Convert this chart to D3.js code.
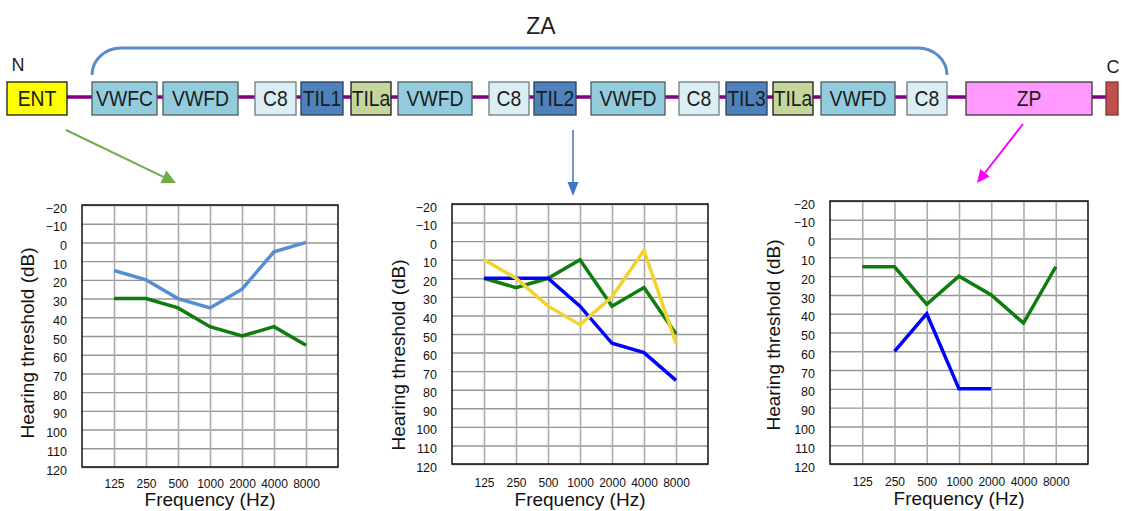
<!DOCTYPE html>
<html>
<head>
<meta charset="utf-8">
<script src="https://cdn.jsdelivr.net/npm/d3@7"></script>
<style>
  html, body { margin: 0; padding: 0; background: #fff; }
  svg { display: block; }
</style>
</head>
<body>
<svg id="fig" width="1122" height="511"></svg>
<script>
// ---- Protein domain architecture (sequence units along the backbone) ----
const domainNames  = ["ENT", "VWFC", "VWFD", "C8", "TIL1", "TILa", "VWFD", "C8", "TIL2", "VWFD", "C8", "TIL3", "TILa", "VWFD", "C8", "ZP", ""];
const domainTypes  = ["ent", "vwf", "vwf", "c8", "til", "tila", "vwf", "c8", "til", "vwf", "c8", "til", "tila", "vwf", "c8", "zp", "cterm"];
const domainStarts = [0, 85, 156, 248, 294, 344, 391, 482, 527, 584, 672, 719, 766, 814, 900, 959, 1099];
const domainEnds   = [60, 150, 231, 289, 336, 384, 465, 522, 569, 658, 712, 760, 806, 888, 940, 1085, 1111];
const zaSpan = [85, 940];

// ---- Audiograms ----
const freqLabels = ["125", "250", "500", "1000", "2000", "4000", "8000"];
const dbTicks = [-20, -10, 0, 10, 20, 30, 40, 50, 60, 70, 80, 90, 100, 110, 120];

// ENT variant
const entUpper = [15, 20, 30, 35, 25, 5, 0];
const entLower = [30, 30, 35, 45, 50, 45, 55];
// TIL2 variants
const til2Green  = [20, 25, 20, 10, 35, 25, 50];
const til2Blue   = [20, 20, 20, 35, 55, 60, 75];
const til2Yellow = [10, 20, 35, 45, 30, 5, 55];
// ZP variants
const zpGreen = [15, 15, 35, 20, 30, 45, 15];
const zpBlue  = [null, 60, 40, 80, 80, null, null];

const svg = d3.select("#fig");
const FONT = "'Liberation Sans', Arial, sans-serif";

// ---------- Domain diagram ----------
const seqX = d3.scaleLinear().domain([0, 1111]).range([7, 1118]);
const backboneY = 97;
const boxTop = 82, boxH = 33;

const domainStyle = {
  ent:   { fill: "#FFFF00", stroke: "#1a1a1a" },
  vwf:   { fill: "#93CDDD", stroke: "#4d5b60" },
  c8:    { fill: "#DAEEF3", stroke: "#6f7b80" },
  til:   { fill: "#4F81BD", stroke: "#2c3e55" },
  tila:  { fill: "#C3D69B", stroke: "#1a1a1a" },
  zp:    { fill: "#FF99FF", stroke: "#3a3a3a" },
  cterm: { fill: "#C0504D", stroke: "#8a3030" }
};

const nDom = domainNames.length;
svg.append("line")
  .attr("x1", seqX(domainEnds[0])).attr("x2", seqX(domainStarts[nDom - 1]))
  .attr("y1", backboneY).attr("y2", backboneY)
  .attr("stroke", "#800080").attr("stroke-width", 3.5);

const doms = svg.append("g").selectAll("g")
  .data(domainNames.map((n, i) => ({ name: n, type: domainTypes[i], s: domainStarts[i], e: domainEnds[i] })))
  .join("g");

doms.append("rect")
  .attr("x", d => seqX(d.s)).attr("y", boxTop)
  .attr("width", d => seqX(d.e) - seqX(d.s)).attr("height", boxH)
  .attr("fill", d => domainStyle[d.type].fill)
  .attr("stroke", d => domainStyle[d.type].stroke)
  .attr("stroke-width", 1.3);

// condensed labels inside the domain boxes
doms.append("text")
  .attr("transform", d => `translate(${(seqX(d.s) + seqX(d.e)) / 2},${boxTop + boxH / 2}) scale(0.88,1)`)
  .attr("dy", "0.36em")
  .attr("text-anchor", "middle")
  .attr("font-family", FONT)
  .attr("font-size", 22)
  .attr("fill", "#1c1c1c")
  .text(d => d.name);

// ZA bracket
const bx0 = seqX(zaSpan[0]), bx1 = seqX(zaSpan[1]);
const bTop = 48, bBot = 75, rx = 29, ry = bBot - bTop;
svg.append("path")
  .attr("d", `M${bx0},${bBot} A${rx},${ry} 0 0 1 ${bx0 + rx},${bTop} H${bx1 - rx} A${rx},${ry} 0 0 1 ${bx1},${bBot}`)
  .attr("fill", "none").attr("stroke", "#5B8CC8").attr("stroke-width", 3);

svg.append("text").attr("x", 541).attr("y", 34).attr("text-anchor", "middle")
  .attr("font-family", FONT).attr("font-size", 23).attr("fill", "#222").text("ZA");
svg.append("text").attr("x", 18).attr("y", 71).attr("text-anchor", "middle")
  .attr("font-family", FONT).attr("font-size", 18).attr("fill", "#222").text("N");
svg.append("text").attr("x", 1113).attr("y", 73).attr("text-anchor", "middle")
  .attr("font-family", FONT).attr("font-size", 18).attr("fill", "#222").text("C");

// ---------- Arrows from domains to audiograms ----------
function arrow(x1, y1, x2, y2, color, width, headLen, headHalf) {
  const dx = x2 - x1, dy = y2 - y1, len = Math.hypot(dx, dy);
  const ux = dx / len, uy = dy / len;
  const bx = x2 - ux * headLen, by = y2 - uy * headLen;
  svg.append("line").attr("x1", x1).attr("y1", y1).attr("x2", bx).attr("y2", by)
    .attr("stroke", color).attr("stroke-width", width);
  svg.append("polygon")
    .attr("points", [[x2, y2], [bx - uy * headHalf, by + ux * headHalf], [bx + uy * headHalf, by - ux * headHalf]].map(p => p.join(",")).join(" "))
    .attr("fill", color);
}
arrow(66, 130, 176, 183, "#70AD47", 2, 14, 7);
arrow(573, 130, 573, 196, "#4472C4", 1.5, 14, 5.5);
arrow(1023, 124, 977, 183, "#FF00FF", 2, 13, 6);

// ---------- Audiogram panels ----------
const panels = [
  { series: [entUpper, entLower], colors: ["#558ED5", "#0E7C0E"],
    L: 82, T: 205, R: 338, B: 467, tickPad: 12.5, yLabX: 27, yLabY: 343, xLabY: 506 },
  { series: [til2Green, til2Blue, til2Yellow], colors: ["#0E7C0E", "#0000FF", "#F2D22E"],
    L: 452, T: 204, R: 708, B: 464, tickPad: 14.5, yLabX: 398, yLabY: 355, xLabY: 506 },
  { series: [zpGreen, zpBlue], colors: ["#0E7C0E", "#0000FF"],
    L: 830, T: 201, R: 1088, B: 464, tickPad: 13.5, yLabX: 773, yLabY: 335, xLabY: 505 }
];

panels.forEach(p => {
  const g = svg.append("g");
  const x = d3.scalePoint().domain(freqLabels).range([p.L, p.R]).padding(1);
  const y = d3.scaleLinear().domain([-20, 120]).range([p.T, p.B]);

  // horizontal grid
  const hg = g.append("g").attr("transform", `translate(${p.L},0)`)
    .call(d3.axisLeft(y).tickValues(dbTicks).tickSize(-(p.R - p.L)).tickFormat(""));
  hg.select(".domain").remove();
  hg.selectAll("line").attr("stroke", "#959595").attr("stroke-width", 1.4);

  // vertical grid
  const vg = g.append("g").attr("transform", `translate(0,${p.B})`)
    .call(d3.axisBottom(x).tickSize(-(p.B - p.T)).tickFormat(""));
  vg.select(".domain").remove();
  vg.selectAll("line").attr("stroke", "#ababab").attr("stroke-width", 1.6);

  // frame
  g.append("rect").attr("x", p.L).attr("y", p.T)
    .attr("width", p.R - p.L).attr("height", p.B - p.T)
    .attr("fill", "none").attr("stroke", "#111").attr("stroke-width", 1.5);

  // y tick labels
  const ya = g.append("g").attr("transform", `translate(${p.L},0)`)
    .call(d3.axisLeft(y).tickValues(dbTicks).tickSize(0).tickPadding(15));
  ya.select(".domain").remove();
  ya.selectAll("text").attr("dy", "0.57em")
    .attr("font-family", FONT).attr("font-size", 12.5).attr("fill", "#111");

  // x tick labels
  const xa = g.append("g").attr("transform", `translate(0,${p.B})`)
    .call(d3.axisBottom(x).tickSize(0).tickPadding(p.tickPad));
  xa.select(".domain").remove();
  xa.selectAll("text").attr("font-family", FONT).attr("font-size", 12).attr("fill", "#111");

  // threshold curves
  const line = d3.line()
    .defined(v => v != null)
    .x((v, i) => x(freqLabels[i]))
    .y(v => y(v));
  p.series.forEach((s, k) => {
    g.append("path").datum(s).attr("d", line)
      .attr("fill", "none").attr("stroke", p.colors[k])
      .attr("stroke-width", 3.5).attr("stroke-linejoin", "miter");
  });

  // axis titles
  g.append("text")
    .attr("transform", `translate(${p.yLabX},${p.yLabY}) rotate(-90)`)
    .attr("text-anchor", "middle").attr("dominant-baseline", "central")
    .attr("font-family", FONT).attr("font-size", 19).attr("fill", "#111")
    .text("Hearing threshold (dB)");
  g.append("text")
    .attr("x", (p.L + p.R) / 2).attr("y", p.xLabY)
    .attr("text-anchor", "middle")
    .attr("font-family", FONT).attr("font-size", 19).attr("fill", "#111")
    .text("Frequency (Hz)");
});
</script>
</body>
</html>
